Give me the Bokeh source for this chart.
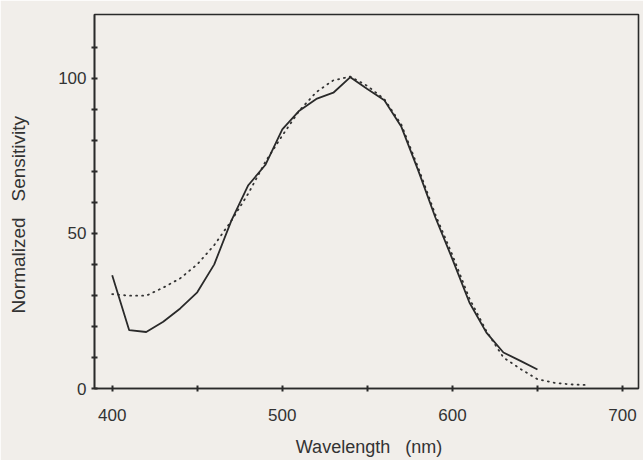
from bokeh.plotting import figure
from bokeh.models import FixedTicker, Range1d
from bokeh.embed import file_html
from bokeh.resources import INLINE

# ---- data ----
wl_solid = [400, 410, 420, 430, 440, 450, 460, 470, 480, 490, 500, 510, 520,
            530, 540, 550, 560, 570, 580, 590, 600, 610, 620, 630, 640, 650]
sens_solid = [36.5, 18.8, 18.2, 21.5, 25.8, 31.0, 40.0, 54.0, 65.5, 72.0, 83.5,
              89.5, 93.3, 95.3, 100.3, 96.5, 92.9, 84.3, 70.1, 55.1, 41.7, 27.7,
              18.0, 11.6, 8.9, 6.1]

wl_dotted = [400, 410, 420, 430, 440, 450, 460, 470, 480, 490, 500, 510, 520,
             530, 540, 550, 560, 570, 580, 590, 600, 610, 620, 630, 640, 650,
             660, 670, 680]
sens_dotted = [30.4, 29.9, 29.9, 32.5, 35.5, 40.0, 46.2, 54.0, 62.8, 73.0, 81.5,
               89.5, 95.5, 99.3, 100.5, 97.5, 93.2, 85.0, 71.0, 56.0, 43.0, 29.0,
               18.5, 10.0, 6.3, 3.0, 1.8, 1.3, 1.1]

x_major = [400, 500, 600, 700]
x_minor = [450, 550, 650]
y_major = [0, 50, 100]
y_minor = [10, 20, 30, 40, 60, 70, 80, 90, 110]

NB = "\u00a0"
x_title = NB + "Wavelength" + NB * 3 + "(nm)"
y_title = "Normalized" + NB * 3 + "Sensitivity" + NB * 5

BG = "#f1eeea"
INK = "#2a2a2a"
TXT = "#333333"
FONT = "Liberation Sans"

p = figure(width=643, height=460, output_backend="svg", toolbar_location=None,
           x_range=Range1d(389.6, 709.4), y_range=Range1d(0, 120.5),
           min_border_left=94, min_border_right=5, min_border_top=14,
           min_border_bottom=72)
p.background_fill_color = BG
p.border_fill_color = BG
p.outline_line_color = INK
p.outline_line_width = 1.6
p.xgrid.visible = False
p.ygrid.visible = False

for ax, maj, mnr in ((p.xaxis[0], x_major, x_minor), (p.yaxis[0], y_major, y_minor)):
    ax.ticker = FixedTicker(ticks=maj, minor_ticks=mnr)
    ax.axis_line_color = INK
    ax.axis_line_width = 1.6
    ax.major_tick_line_color = INK
    ax.minor_tick_line_color = INK
    ax.major_tick_line_width = 2
    ax.minor_tick_line_width = 2
    ax.major_tick_in = 3
    ax.major_tick_out = 3
    ax.minor_tick_in = 3
    ax.minor_tick_out = 3
    ax.major_label_text_font = FONT
    ax.major_label_text_font_size = "17px"
    ax.major_label_text_color = TXT
    ax.axis_label_text_font = FONT
    ax.axis_label_text_font_style = "normal"
    ax.axis_label_text_color = TXT

p.xaxis[0].major_label_standoff = 17
p.yaxis[0].major_label_standoff = 5
p.xaxis[0].axis_label = x_title
p.xaxis[0].axis_label_text_font_size = "18px"
p.xaxis[0].axis_label_standoff = 13
p.yaxis[0].axis_label = y_title
p.yaxis[0].axis_label_text_font_size = "19px"
p.yaxis[0].axis_label_standoff = 26

p.line(wl_dotted, sens_dotted, line_color="#333333", line_width=1.8,
       line_dash="1 5", line_cap="round")
p.line(wl_solid, sens_solid, line_color=INK, line_width=1.8)

open("out.html", "w").write(file_html(p, INLINE))
